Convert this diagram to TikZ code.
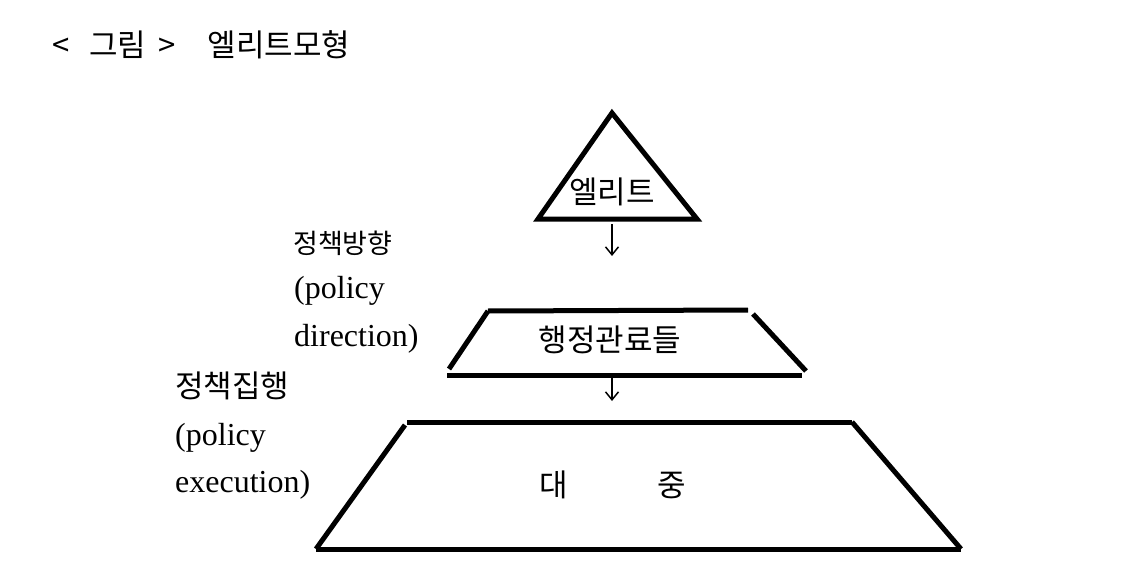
\documentclass[tikz,border=0pt]{standalone}
\usepackage{fontspec}
\setmainfont{Liberation Serif}
\newfontfamily\krfont{Noto Sans CJK KR}
\usetikzlibrary{arrows.meta}

\begin{document}
\begin{tikzpicture}[
  x=1pt, y=-1pt,
  edge/.style={line width=5pt},
  arr/.style={-{Straight Barb[length=8pt,width=13pt]}, line width=1.5pt},
  kr/.style={font=\krfont\fontsize{31}{33}\selectfont, inner sep=0pt},
  lat/.style={font=\fontsize{32}{34}\selectfont, inner sep=0pt, anchor=west}]
\useasboundingbox (0,0) rectangle (1136,586);

% title
\node[kr, anchor=west] (title) at (52,45)
  {<\hspace{20pt}그림\hspace{12pt}>\hspace{32pt}엘리트모형};

% elite triangle
\coordinate (eTop) at (612,113);
\coordinate (eL) at (538,219);
\coordinate (eR) at (697,219);
\draw[edge, line join=miter] (eL) -- (eTop) -- (eR) -- cycle;
\node[kr] (elite) at (612,192) {엘리트};

% bureaucrats
\coordinate (bTL) at (488,311);
\coordinate (bTR) at (748,310);
\coordinate (bBL) at (447,375);
\coordinate (bBR) at (802,375);
\draw[edge] (bTL) -- (bTR);
\draw[edge] (449,369) -- (bTL);
\draw[edge] (753,314) -- (806,371);
\draw[edge] (bBL) -- (bBR);
\node[kr] (bureau) at (610,340) {행정관료들};

% mass
\coordinate (mTL) at (407,422);
\coordinate (mTR) at (852,422);
\coordinate (mBL) at (316,549);
\coordinate (mBR) at (961,549);
\draw[edge] (mTL) -- (mTR);
\draw[edge] (405,425) -- (mBL);
\draw[edge] (mTR) -- (mBR);
\draw[edge] (mBL) -- (mBR);
\node[kr] (mass) at (613,485) {대\hspace{90pt}중};

% arrows
\coordinate (a1s) at (612,224);
\coordinate (a1e) at (612,256);
\coordinate (a2s) at (612,378);
\coordinate (a2e) at (612,401);
\draw[arr] (a1s) -- (a1e);
\draw[arr] (a2s) -- (a2e);

% labels
\node[kr, anchor=west, font=\krfont\fontsize{27}{29}\selectfont] (dirK) at (293,243) {정책방향};
\node[lat] (dirA) at (294,291) {(policy};
\node[lat] (dirB) at (294,339) {direction)};
\node[kr, anchor=west] (exeK) at (175,386) {정책집행};
\node[lat] (exeA) at (175,438) {(policy};
\node[lat] (exeB) at (175,485) {execution)};
\end{tikzpicture}
\end{document}
